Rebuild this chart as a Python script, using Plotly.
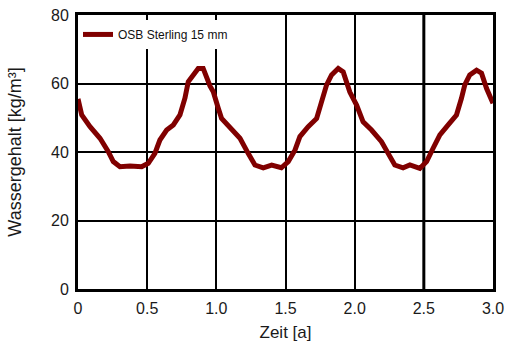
import plotly.graph_objects as go

zeit = [0.0, 0.027, 0.087, 0.159, 0.219, 0.255, 0.303, 0.376, 0.46, 0.508, 0.556, 0.592, 0.641, 0.689,
        0.737, 0.773, 0.797, 0.833, 0.869, 0.905, 0.93, 0.954, 0.978, 0.99, 1.014, 1.038, 1.098, 1.171,
        1.23, 1.279, 1.339, 1.4, 1.47, 1.52, 1.569, 1.604, 1.664, 1.725, 1.761, 1.797, 1.833, 1.881,
        1.917, 1.953, 1.965, 2.014, 2.061, 2.122, 2.194, 2.242, 2.29, 2.35, 2.399, 2.471, 2.52, 2.567,
        2.616, 2.676, 2.736, 2.772, 2.796, 2.832, 2.881, 2.917, 2.953, 3.0]
wassergehalt = [55.5, 50.8, 47.4, 44.0, 40.1, 37.2, 35.7, 35.9, 35.7, 36.7, 39.6, 43.5, 46.4, 47.9,
                50.8, 55.7, 60.5, 62.5, 64.4, 64.4, 61.5, 59.3, 57.6, 55.7, 52.8, 49.8, 47.4, 44.0,
                39.6, 36.2, 35.4, 36.2, 35.4, 37.2, 40.6, 44.5, 47.4, 49.8, 54.7, 59.6, 62.5, 64.4,
                63.4, 58.6, 57.5, 53.7, 48.8, 46.4, 43.0, 39.6, 36.2, 35.4, 36.2, 35.2, 37.2, 41.1,
                45.0, 47.9, 50.8, 55.7, 59.6, 62.5, 63.9, 63.0, 58.6, 54.2]

x_ticks = [0, 0.5, 1.0, 1.5, 2.0, 2.5, 3.0]
x_labels = ["0", "0.5", "1.0", "1.5", "2.0", "2.5", "3.0"]
y_ticks = [0, 20, 40, 60, 80]
y_labels = ["0", "20", "40", "60", "80"]

ARIAL = "Liberation Sans, Arial, sans-serif"

fig = go.Figure()
fig.add_trace(go.Scatter(
    x=zeit, y=wassergehalt, mode="lines", name="OSB Sterling 15 mm",
    line=dict(color="#800000", width=5),
))

# the 2.5 gridline is drawn heavier in the original
fig.add_shape(type="line", xref="x", yref="paper", x0=x_ticks[5], x1=x_ticks[5], y0=0, y1=1,
              line=dict(color="black", width=3), layer="below")

fig.update_layout(
    width=507, height=342,
    margin=dict(l=78, r=14, t=15, b=53),
    paper_bgcolor="white", plot_bgcolor="white",
    font=dict(family=ARIAL, size=16, color="#1a1a1a"),
    showlegend=True,
    legend=dict(x=0.0, y=0.982, xanchor="left", yanchor="top", bgcolor="white",
                font=dict(family=ARIAL, size=12, color="#111"), borderwidth=0, itemwidth=30),
    xaxis=dict(
        range=[0, 3], tickvals=x_ticks, ticktext=x_labels,
        showgrid=True, gridcolor="black", gridwidth=1.5,
        showline=True, linecolor="black", linewidth=3, mirror=True,
        ticks="", zeroline=False, automargin=False, ticklabelstandoff=3,
        ticklabeloverflow="allow", tickfont=dict(size=16),
        title=dict(text="Zeit [a]", standoff=13, font=dict(family=ARIAL, size=17)),
    ),
    yaxis=dict(
        range=[0, 80], tickvals=y_ticks, ticktext=y_labels,
        showgrid=True, gridcolor="black", gridwidth=2,
        showline=True, linecolor="black", linewidth=3, mirror=True,
        ticks="", zeroline=False, automargin=False, ticklabelstandoff=3,
        ticklabeloverflow="allow", tickfont=dict(size=16),
        title=dict(text="Wassergehalt [kg/m³]", standoff=25,
                   font=dict(family=ARIAL, size=18)),
    ),
)

fig.write_html(
    "out.html",
    config={"displayModeBar": False},
    post_script="document.body.style.margin='0';document.body.style.overflow='hidden';",
)
